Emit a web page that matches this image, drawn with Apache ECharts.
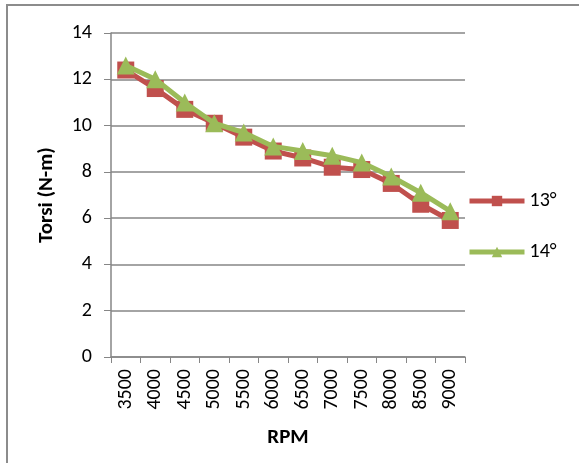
<!DOCTYPE html>
<html>
<head>
<meta charset="utf-8">
<script src="https://cdn.jsdelivr.net/npm/echarts@6/dist/echarts.min.js"></script>
<style>
html,body{margin:0;padding:0;background:#fff;}
#chart{width:579px;height:463px;}
</style>
</head>
<body>
<div id="chart"></div>
<script>
var categories = ['3500','4000','4500','5000','5500','6000','6500','7000','7500','8000','8500','9000'];
var series13 = [12.4, 11.6, 10.7, 10.1, 9.5, 8.9, 8.6, 8.2, 8.1, 7.5, 6.6, 5.9];
var series14 = [12.6, 12.0, 11.0, 10.1, 9.7, 9.1, 8.9, 8.7, 8.4, 7.8, 7.1, 6.3];
var yTicks = [0, 2, 4, 6, 8, 10, 12, 14];

var chart = echarts.init(document.getElementById('chart'), null, {renderer: 'canvas'});
var font = 'Calibri, Carlito, "Open Sans", "Noto Sans", sans-serif';
chart.setOption({
  animation: false,
  backgroundColor: '#fff',
  graphic: [{
    type: 'rect', silent: true, z: -1,
    shape: {x: 7, y: 5, width: 600, height: 500},
    style: {fill: 'none', stroke: '#8c8c8c', lineWidth: 2}
  }],
  grid: {left: 111, top: 33, width: 354, height: 324, containLabel: false},
  legend: {
    orient: 'vertical',
    left: 462, top: 186,
    itemWidth: 55, itemHeight: 13, itemGap: 31,
    lineStyle: {width: 5},
    textStyle: {fontSize: 20, color: '#000', fontFamily: font},
    data: ['13°', '14°']
  },
  xAxis: {
    type: 'category',
    data: categories,
    boundaryGap: true,
    name: 'RPM',
    nameLocation: 'middle',
    nameGap: 70,
    nameTextStyle: {fontSize: 21, fontWeight: 'bold', color: '#000', fontFamily: font},
    axisLine: {lineStyle: {color: '#868686', width: 1.5}},
    axisTick: {show: true, alignWithLabel: false, length: 6, lineStyle: {color: '#868686'}},
    axisLabel: {rotate: 90, fontSize: 20, color: '#000', margin: 12, fontFamily: font},
    splitLine: {show: false}
  },
  yAxis: {
    type: 'value',
    min: 0, max: 14, interval: 2,
    name: 'Torsi (N-m)',
    nameLocation: 'middle',
    nameGap: 54,
    nameRotate: 90,
    nameTextStyle: {fontSize: 21, fontWeight: 'bold', color: '#000', fontFamily: font},
    axisLine: {show: true, lineStyle: {color: '#868686', width: 1.5}},
    axisTick: {show: true, length: 7, inside: false, lineStyle: {color: '#868686'}},
    axisLabel: {fontSize: 20, color: '#000', margin: 19, fontFamily: font,
      formatter: function(v){ return yTicks.indexOf(v) >= 0 ? String(v) : ''; }},
    splitLine: {show: true, lineStyle: {color: '#868686', width: 1.5}}
  },
  series: [
    {
      name: '13°', type: 'line', data: series13,
      symbol: 'rect', symbolSize: 17,
      itemStyle: {color: '#C0504D'},
      lineStyle: {color: '#C0504D', width: 5},
      z: 2
    },
    {
      name: '14°', type: 'line', data: series14,
      symbol: 'triangle', symbolSize: 18,
      itemStyle: {color: '#9BBB59'},
      lineStyle: {color: '#9BBB59', width: 5},
      z: 3
    }
  ]
});
</script>
</body>
</html>
